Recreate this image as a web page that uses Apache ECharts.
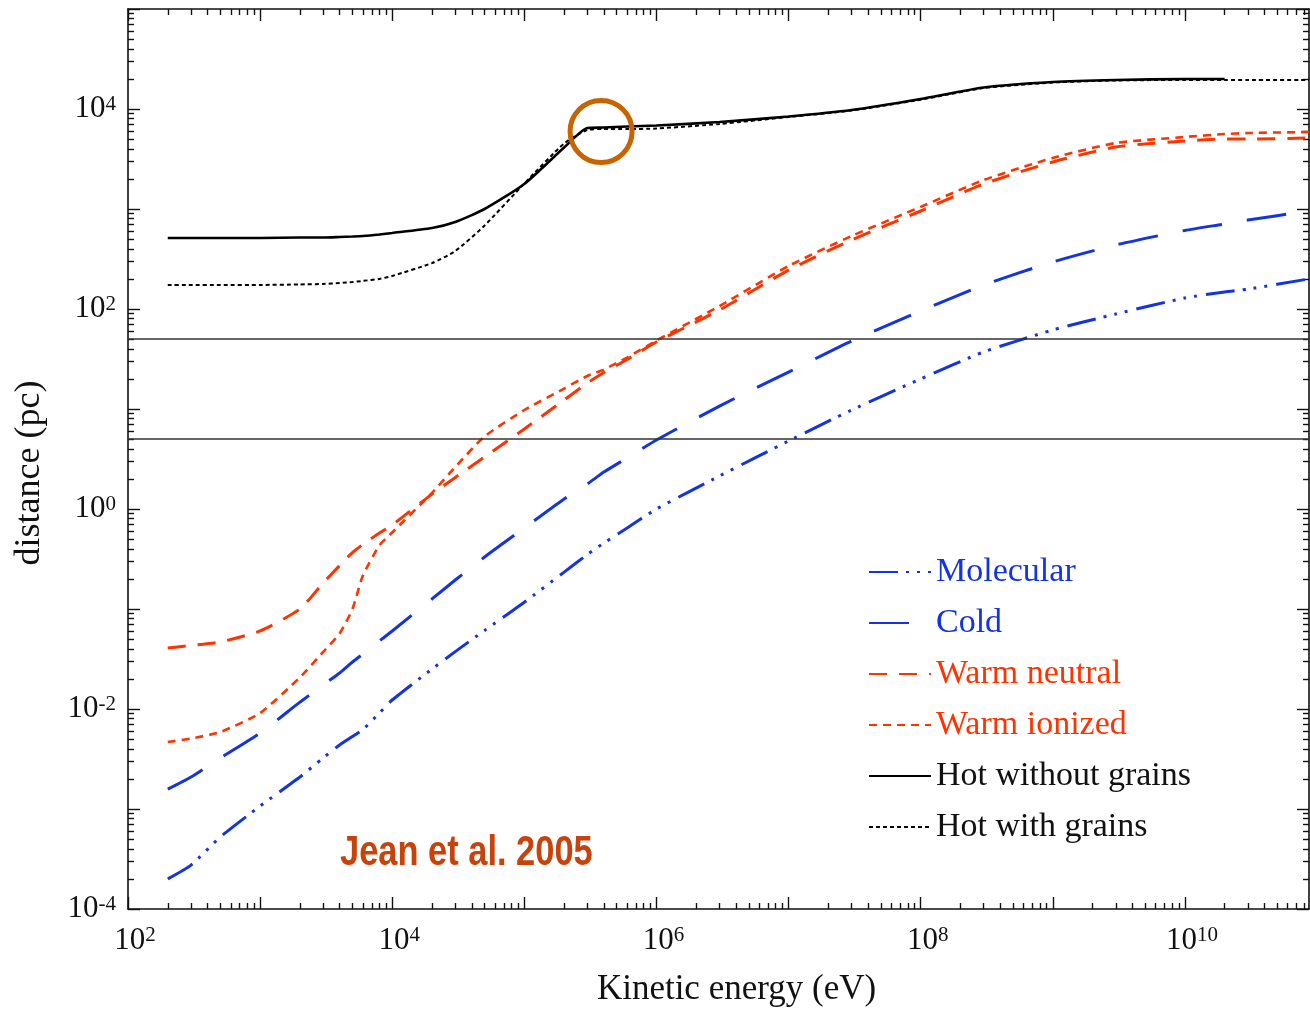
<!DOCTYPE html>
<html><head><meta charset="utf-8">
<script src="https://cdn.jsdelivr.net/npm/echarts@6/dist/echarts.min.js"></script>
<style>html,body{margin:0;padding:0;background:#fff}#c{width:1310px;height:1012px}</style>
</head><body><div id="c"></div><script>
// Kinetic energy grid (eV)
const energy = [200, 300, 500, 1e3, 2e3, 3e3, 4e3, 5e3, 6e3, 8e3, 1e4, 2e4, 3e4, 5e4, 1e5, 2e5, 3e5, 4e5, 6e5, 1e6, 3e6, 1e7, 3e7, 1e8, 3e8, 1e9, 3e9, 1e10, 2e10, 3e10, 8.7e10];
// distance (pc)
const molecular = [2.0e-4, 2.75e-4, 5.25e-4, 1.07e-3, 2.09e-3, 3.24e-3, 4.37e-3, 5.31e-3, 6.24e-3, 9.12e-3, 0.0123, 0.0251, 0.0375, 0.061, 0.117, 0.234, 0.351, 0.457, 0.646, 1.0, 2.14, 4.79, 9.77, 20.0, 37.2, 61.7, 89.1, 129, 148, 158, 200];
const cold = [1.58e-3, 2.09e-3, 3.24e-3, 5.75e-3, 0.0117, 0.0174, 0.0229, 0.0295, 0.0355, 0.0479, 0.0603, 0.126, 0.195, 0.331, 0.646, 1.26, 1.78, 2.34, 3.24, 4.90, 10.7, 23.4, 47.9, 95.5, 174, 295, 437, 610, 708, 776, 955];
const warmNeutral = [0.0407, 0.0432, 0.0468, 0.0603, 0.100, 0.182, 0.272, 0.367, 0.442, 0.575, 0.692, 1.41, 2.07, 3.31, 6.31, 12.3, 18.2, 23.2, 31.3, 46.8, 97.7, 245, 490, 955, 1780, 2950, 4170, 4790, 5010, 5010, 5130];
const warmIonized = [4.68e-3, 5.07e-3, 5.89e-3, 9.12e-3, 0.0207, 0.0372, 0.0569, 0.100, 0.216, 0.432, 0.582, 1.45, 2.63, 5.31, 9.77, 16.0, 21.4, 24.8, 32.7, 48.4, 107, 269, 537, 1050, 1950, 3240, 4570, 5250, 5620, 5750, 5890];
const hotNoGrains = [513, 513, 513, 513, 519, 519, 525, 531, 537, 556, 575, 646, 741, 1000, 1780, 4120, 6460, 6530, 6680, 6840, 7410, 8410, 9770, 12600, 16400, 18600, 19500, 19950, 19950, null, null];
const hotGrains = [174, 174, 174, 174, 176, 178, 182, 186, 191, 200, 214, 288, 380, 684, 1800, 4520, 6170, 6310, 6310, 6380, 7080, 8320, 9660, 12400, 16200, 18400, 19300, 19500, 19500, 19500, 19500];
// reference distances (pc)
const refLines = [5, 50];
// highlighted point
const marker = [[3.81e5, 5957]];
// axis ticks and labels
const xRange = [100, 8.7e10];
const yRange = [1e-4, 1e5];
const xLabelVals = [1e2, 1e4, 1e6, 1e8, 1e10];
const yLabelVals = [1e-4, 1e-2, 1, 1e2, 1e4];
const xDecades = [1e2, 1e3, 1e4, 1e5, 1e6, 1e7, 1e8, 1e9, 1e10];
const yDecades = [1e-4, 1e-3, 1e-2, 1e-1, 1, 1e1, 1e2, 1e3, 1e4, 1e5];

function minorOf(dec) {
  const out = [];
  dec.forEach(d => { for (let m = 2; m <= 9; m++) out.push(m * d); });
  return out;
}
const xMinor = minorOf(xDecades);
const yMinor = minorOf(yDecades);

const BLUE = '#1434e2', RED = '#ff3300', BLACK = '#000';
const SERIF = "'Liberation Serif','Times New Roman',serif";

function pair(arr) { return energy.map((e, i) => [e, arr[i]]); }

function fmt(v) {
  const e = Math.round(Math.log10(v));
  return '{b|10}{s|' + e + '}';
}
const rich = {
  b: {fontFamily: SERIF, fontSize: 31, color: '#111'},
  s: {fontFamily: SERIF, fontSize: 21, color: '#111', verticalAlign: 'top'}
};

function axis(pos, range, ticks, len, withLine, labels, extra) {
  const a = {
    type: 'log', logBase: 10, position: pos, min: range[0], max: range[1],
    splitLine: {show: false},
    axisLine: {show: withLine, lineStyle: {color: '#111', width: 1.6}},
    axisTick: {show: true, inside: true, length: len, customValues: ticks, lineStyle: {color: '#111', width: 1.4}},
    axisLabel: {show: false}
  };
  if (labels) {
    a.axisLabel = Object.assign({show: true, customValues: labels, formatter: fmt, rich: rich}, extra || {});
  }
  return a;
}

const xAxes = [
  axis('bottom', xRange, xDecades, 12, true, xLabelVals, {margin: 16, padding: [0, 0, 0, 14]}),
  axis('bottom', xRange, xMinor, 6, false),
  axis('top', xRange, xDecades, 12, true),
  axis('top', xRange, xMinor, 6, false)
];
xAxes[0].name = 'Kinetic energy (eV)';
xAxes[0].nameLocation = 'middle';
xAxes[0].nameGap = 63;
xAxes[0].nameTextStyle = {fontFamily: SERIF, fontSize: 35, color: '#111', padding: [0, 0, 0, 36]};

const yAxes = [
  axis('left', yRange, yDecades, 12, true, yLabelVals, {margin: 12}),
  axis('left', yRange, yMinor, 6, false),
  axis('right', yRange, yDecades, 12, true),
  axis('right', yRange, yMinor, 6, false)
];
yAxes[0].name = 'distance (pc)';
yAxes[0].nameLocation = 'middle';
yAxes[0].nameGap = 80;
yAxes[0].nameTextStyle = {fontFamily: SERIF, fontSize: 36, color: '#111', padding: [0, 28, 0, 0]};

function line(name, arr, color, width, type, z) {
  return {
    name: name, type: 'line', data: pair(arr), showSymbol: false, symbol: 'none',
    smooth: 0.2, connectNulls: false, z: z || 2,
    lineStyle: {color: color, width: width, type: type, cap: 'butt'},
    itemStyle: {color: color}
  };
}

const series = [
  line('Molecular', molecular, BLUE, 3, [29, 8, 3, 8, 3, 8, 3, 9]),
  line('Cold', cold, BLUE, 3, [40, 25]),
  line('Warm neutral', warmNeutral, RED, 3, [18, 12]),
  line('Warm ionized', warmIonized, RED, 2.6, [8, 6], 3),
  line('Hot without grains', hotNoGrains, BLACK, 2.6, 'solid'),
  line('Hot with grains', hotGrains, BLACK, 2, [4, 3], 3),
  {
    name: 'refs', type: 'line', data: [], silent: true,
    markLine: {
      silent: true, symbol: ['none', 'none'], label: {show: false},
      lineStyle: {color: '#333', width: 1.6, type: 'solid'},
      data: refLines.map(v => ({yAxis: v}))
    }
  },
  {
    name: 'marker', type: 'scatter', data: marker, symbol: 'circle', symbolSize: 62, z: 10, silent: true,
    itemStyle: {color: 'rgba(0,0,0,0)', borderColor: '#c86400', borderWidth: 5, opacity: 1}
  }
];

const chart = echarts.init(document.getElementById('c'), null, {renderer: 'canvas'});
chart.setOption({
  animation: false,
  backgroundColor: '#fff',
  grid: {left: 128, right: 1, top: 9, bottom: 103, containLabel: false},
  graphic: [{
    type: 'text', left: 340, top: 832, scaleX: 0.82, z: 20,
    style: {text: 'Jean et al. 2005', font: "bold 42px 'Liberation Sans', Arial, sans-serif", fill: '#c8430c'}
  }],
  legend: {
    orient: 'vertical', left: 868, top: 555, padding: 0,
    itemWidth: 62, itemHeight: 14, itemGap: 17,
    itemStyle: {opacity: 0},
    textStyle: {fontFamily: SERIF, fontSize: 34},
    data: [
      {name: 'Molecular', textStyle: {color: BLUE}},
      {name: 'Cold', textStyle: {color: BLUE}},
      {name: 'Warm neutral', textStyle: {color: RED}},
      {name: 'Warm ionized', textStyle: {color: RED}},
      {name: 'Hot without grains', textStyle: {color: '#111'}},
      {name: 'Hot with grains', textStyle: {color: '#111'}}
    ]
  },
  xAxis: xAxes,
  yAxis: yAxes,
  series: series
});
</script></body></html>
